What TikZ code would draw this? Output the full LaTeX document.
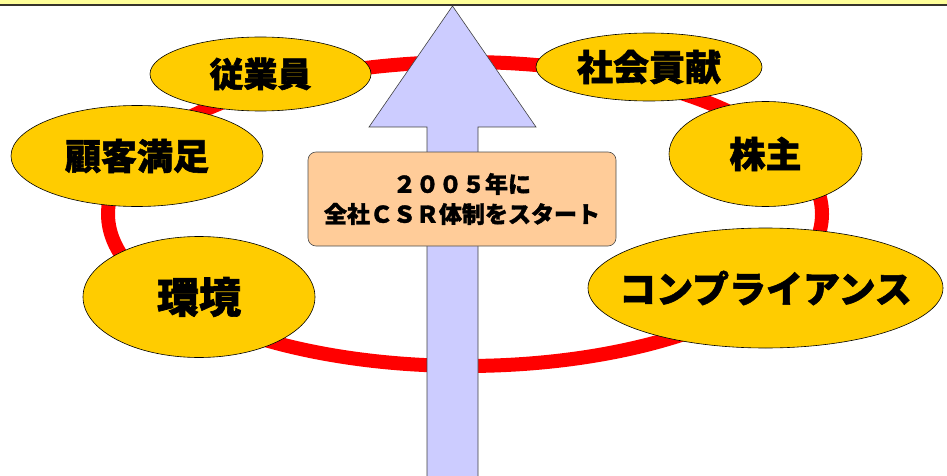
\documentclass[tikz,border=0pt]{standalone}
\usepackage{fontspec}
\usetikzlibrary{shapes.geometric}
\newfontfamily\jp{Noto Sans CJK JP}[FakeBold=1.5, BoldFeatures={FakeBold=1.5}]
\definecolor{gold}{HTML}{FFCC00}
\definecolor{peach}{HTML}{FFCC99}
\definecolor{lav}{HTML}{CCCCFF}
\definecolor{topband}{HTML}{FFFF99}
\begin{document}
\begin{tikzpicture}[x=1pt,y=-1pt,
  oval/.style={ellipse, draw=black, line width=0.6pt, fill=gold, inner sep=0pt, font=\jp\bfseries},
  startbox/.style={draw=black!70, fill=peach, rounded corners=8pt, line width=0.6pt, inner sep=0pt, align=center, font=\jp\bfseries\fontsize{23}{30}\selectfont},
  ring/.style={red, line width=14pt},
  uparrow/.style={fill=lav, draw=black!75, line width=0.6pt, line join=miter}
]
\useasboundingbox (0,0) rectangle (947,476);
\fill[topband] (0,0) rectangle (947,5);
\draw[black!80!olive, line width=1.5pt] (0,5) -- (947,5);
% ring
\draw[ring] (465,214) ellipse [x radius=357, y radius=152];
% arrow
\draw[uparrow] (427,480) -- (427,127) -- (369,127) -- (452.5,6) -- (536,127) -- (478,127) -- (478,480);
% center box
\node[startbox, minimum width=308pt, minimum height=94pt] (start) at (462,199) {２００５年に\\全社ＣＳＲ体制をスタート};
% ovals
\node[oval, inner xsep=-30pt, minimum width=221pt, minimum height=74pt, font=\jp\bfseries\fontsize{34}{34}\selectfont] (emp) at (260.5,74) {従業員};
\node[oval, inner xsep=-30pt, minimum width=252pt, minimum height=101pt, font=\jp\bfseries\fontsize{36}{36}\selectfont] (cust) at (137,156) {顧客満足};
\node[oval, inner xsep=-30pt, minimum width=232pt, minimum height=121pt, font=\jp\bfseries\fontsize{42}{42}\selectfont] (env) at (199,297) {環境};
\node[oval, inner xsep=-30pt, minimum width=226pt, minimum height=68pt, font=\jp\bfseries\fontsize{36}{36}\selectfont] (soc) at (649,67) {社会貢献};
\node[oval, inner xsep=-30pt, minimum width=193pt, minimum height=105pt, font=\jp\bfseries\fontsize{36}{36}\selectfont] (share) at (765.5,154) {株主};
\node[oval, inner xsep=-40pt, inner ysep=-10pt, minimum width=355pt, minimum height=120pt, font=\jp\bfseries\fontsize{37}{37}\selectfont] (comp) at (765.5,288) {コンプライアンス};
\end{tikzpicture}
\end{document}
